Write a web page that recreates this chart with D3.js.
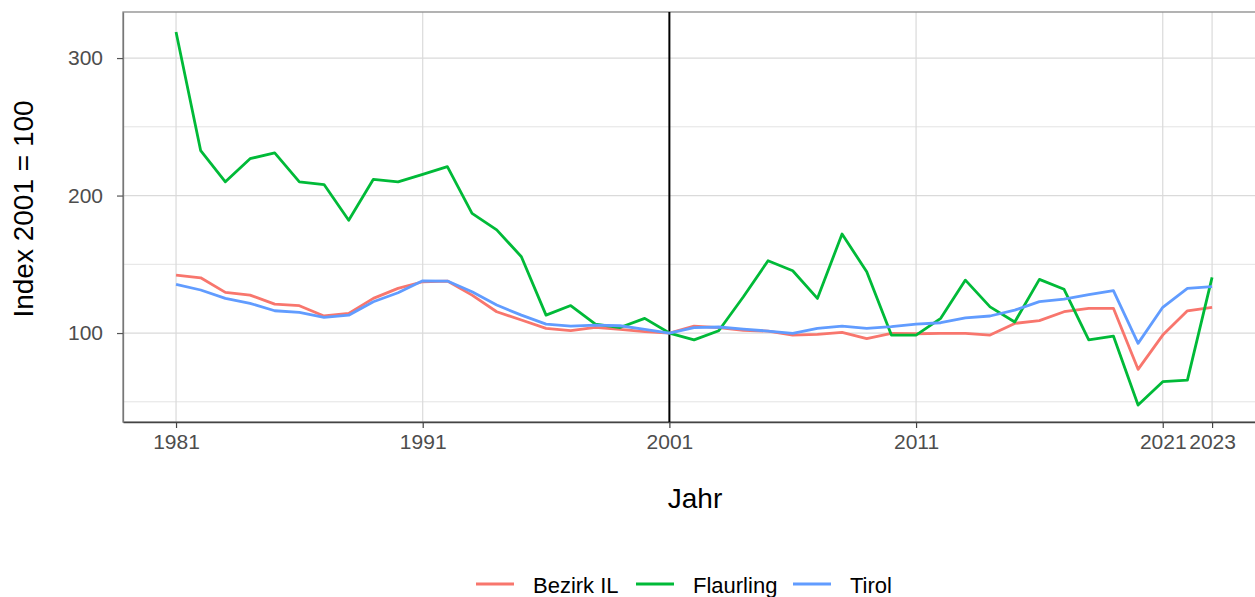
<!DOCTYPE html>
<html>
<head>
<meta charset="utf-8">
<script src="https://cdn.jsdelivr.net/npm/d3@7"></script>
<style>
  body { margin: 0; background: #fff; }
  text { font-family: Arial, "Liberation Sans", sans-serif; }
</style>
</head>
<body>
<svg id="chart" width="1255" height="597"></svg>
<script>
var years = d3.range(1981, 2024);
var xTicks = [1981, 1991, 2001, 2011, 2021, 2023];
var yTicks = [100, 200, 300];
var yMinor = [50, 150, 250];

var bezirk = [142.2, 140.2, 129.6, 127.6, 121, 119.9, 112.4, 114.3, 125.2, 132.5,
  137.3, 137.8, 127.6, 115.5, 109.5, 103.4, 101.7, 104.1, 102.7, 101,
  100, 105, 103.9, 102, 101.4, 98.5, 99, 100.5, 96, 99.8,
  99.5, 99.8, 99.8, 98.5, 107, 109, 115.5, 118, 118, 73.6,
  98.5, 116.2, 118.7];
var flaurling = [319, 232.6, 210, 226.8, 231, 210, 208, 182, 211.8, 210,
  215.4, 221, 187, 175, 155.5, 113, 120, 106.5, 104, 110.7,
  100, 95, 101.7, 126.4, 152.6, 145.3, 125.2, 172, 144.6, 98.5,
  98.5, 110.7, 138.5, 119, 108, 139, 131.8, 95, 97.8, 47.6,
  64.6, 65.8, 140.5];
var tirol = [135.4, 131.3, 125.2, 121.6, 116.2, 115, 111.4, 113, 122.8, 129.3,
  138, 137.8, 130, 120.4, 113, 106.5, 105, 105.8, 105.3, 102.7,
  100, 104, 104.4, 102.9, 101.4, 99.8, 103.4, 105, 103.4, 104.6,
  106.5, 107.5, 111, 112.4, 116.7, 122.8, 124.7, 128, 130.8, 92.5,
  118.7, 132.5, 133.7];

var seriesNames = ["Bezirk IL", "Flaurling", "Tirol"];
var seriesData = [bezirk, flaurling, tirol];
var colors = ["#F8766D", "#00BA38", "#619CFF"];

var pLeft = 123, pTop = 12, pRight = 1255, pBottom = 422;
var svg = d3.select("#chart");

var x = d3.scaleLinear().domain([1978.85, 2024.74]).range([pLeft, pRight]);
var y = d3.scaleLinear().domain([35.3, 333.5]).range([pBottom, pTop]);

// grid
var grid = svg.append("g");
grid.selectAll(".ymin").data(yMinor).enter().append("line")
  .attr("x1", pLeft).attr("x2", pRight)
  .attr("y1", function(d) { return y(d); }).attr("y2", function(d) { return y(d); })
  .attr("stroke", "#e3e3e3").attr("stroke-width", 1);
grid.selectAll(".ymaj").data(yTicks).enter().append("line")
  .attr("x1", pLeft).attr("x2", pRight)
  .attr("y1", function(d) { return y(d); }).attr("y2", function(d) { return y(d); })
  .attr("stroke", "#dadada").attr("stroke-width", 1.2);
grid.selectAll(".xmaj").data(xTicks).enter().append("line")
  .attr("y1", pTop).attr("y2", pBottom)
  .attr("x1", function(d) { return x(d); }).attr("x2", function(d) { return x(d); })
  .attr("stroke", "#dadada").attr("stroke-width", 1.2);

// border
svg.append("rect")
  .attr("x", pLeft).attr("y", pTop)
  .attr("width", pRight - pLeft + 10).attr("height", pBottom - pTop)
  .attr("fill", "none").attr("stroke", "#8a8a8a").attr("stroke-width", 1.3);

// axes
var xAxis = d3.axisBottom(x).tickValues(xTicks).tickFormat(d3.format("d"))
  .tickSize(6).tickSizeOuter(0).tickPadding(6);
var gx = svg.append("g").attr("transform", "translate(0," + pBottom + ")").call(xAxis);
gx.select(".domain").attr("stroke", "#444").attr("stroke-width", 1.5);
gx.selectAll(".tick line").attr("stroke", "#444").attr("stroke-width", 1.2);
gx.selectAll("text").attr("fill", "#4d4d4d").style("font-size", "21px");

var yAxis = d3.axisLeft(y).tickValues(yTicks).tickSize(6).tickSizeOuter(0).tickPadding(14);
var gy = svg.append("g").attr("transform", "translate(" + pLeft + ",0)").call(yAxis);
gy.select(".domain").attr("stroke", "#777").attr("stroke-width", 1.3);
gy.selectAll(".tick line").attr("stroke", "#555").attr("stroke-width", 1.2);
gy.selectAll("text").attr("fill", "#4d4d4d").style("font-size", "21px");

// vertical marker at 2001
svg.append("line")
  .attr("x1", x(2001)).attr("x2", x(2001))
  .attr("y1", pTop).attr("y2", pBottom)
  .attr("stroke", "#000").attr("stroke-width", 2);

// lines
var line = d3.line()
  .x(function(d, i) { return x(years[i]); })
  .y(function(d) { return y(d); });

svg.append("g").selectAll("path").data(seriesData).enter().append("path")
  .attr("d", line)
  .attr("fill", "none")
  .attr("stroke", function(d, i) { return colors[i]; })
  .attr("stroke-width", 2.8)
  .attr("stroke-linejoin", "round");

// titles
svg.append("text")
  .attr("x", 695).attr("y", 508)
  .attr("text-anchor", "middle")
  .style("font-size", "28px").attr("fill", "#000")
  .text("Jahr");

svg.append("text")
  .attr("transform", "translate(33,209) rotate(-90)")
  .attr("text-anchor", "middle")
  .style("font-size", "28px").attr("fill", "#000")
  .text("Index 2001 = 100");

// legend
var legendX = [476, 636, 793];
var leg = svg.append("g");
seriesNames.forEach(function(name, i) {
  leg.append("line")
    .attr("x1", legendX[i]).attr("x2", legendX[i] + 38)
    .attr("y1", 584).attr("y2", 584)
    .attr("stroke", colors[i]).attr("stroke-width", 2.8);
  leg.append("text")
    .attr("x", legendX[i] + 57).attr("y", 593)
    .style("font-size", "22px").attr("fill", "#000")
    .text(name);
});
</script>
</body>
</html>
